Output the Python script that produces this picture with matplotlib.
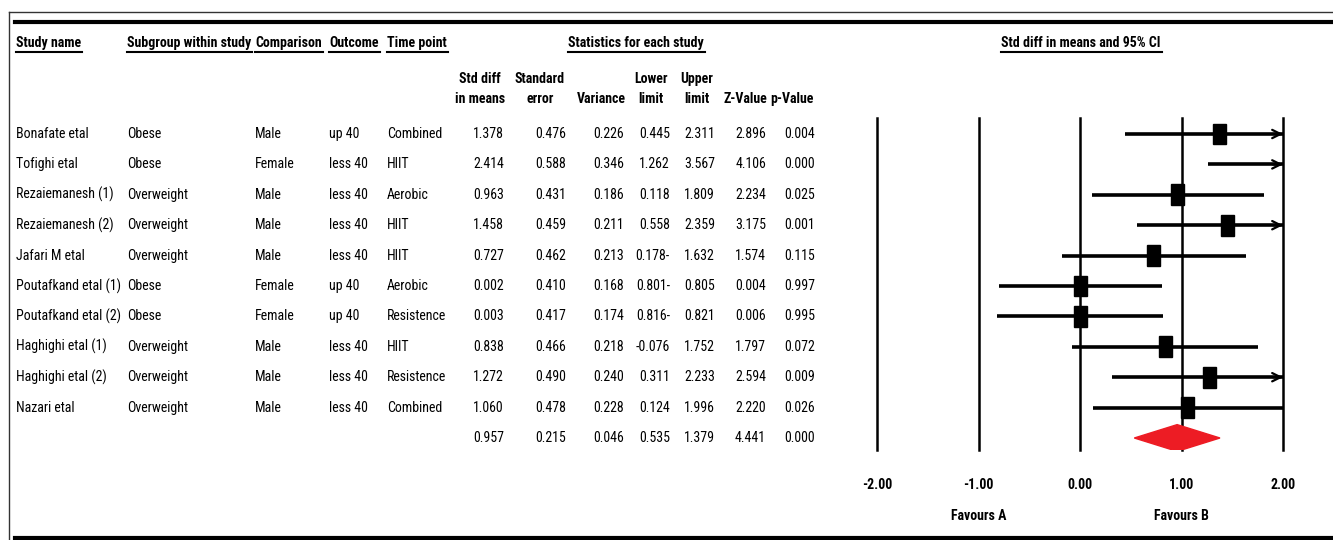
import matplotlib
matplotlib.use("Agg")
import matplotlib.pyplot as plt
from matplotlib.patches import Rectangle, Polygon
from matplotlib.transforms import blended_transform_factory

plt.rcParams["font.family"] = ["Roboto Condensed", "Archivo Narrow", "Liberation Sans",
                               "DejaVu Sans"]

# study table
studies = ["Bonafate etal", "Tofighi etal", "Rezaiemanesh (1)", "Rezaiemanesh (2)",
           "Jafari M etal", "Poutafkand etal (1)", "Poutafkand etal (2)",
           "Haghighi etal (1)", "Haghighi etal (2)", "Nazari etal"]
subgroup = ["Obese", "Obese", "Overweight", "Overweight", "Overweight", "Obese",
            "Obese", "Overweight", "Overweight", "Overweight"]
comparison = ["Male", "Female", "Male", "Male", "Male", "Female", "Female",
              "Male", "Male", "Male"]
outcome = ["up 40", "less 40", "less 40", "less 40", "less 40", "up 40", "up 40",
           "less 40", "less 40", "less 40"]
timepoint = ["Combined", "HIIT", "Aerobic", "HIIT", "HIIT", "Aerobic", "Resistence",
             "HIIT", "Resistence", "Combined"]

# numbers (last entry = pooled)
smd = [1.378, 2.414, 0.963, 1.458, 0.727, 0.002, 0.003, 0.838, 1.272, 1.060, 0.957]
se = [0.476, 0.588, 0.431, 0.459, 0.462, 0.410, 0.417, 0.466, 0.490, 0.478, 0.215]
var = [0.226, 0.346, 0.186, 0.211, 0.213, 0.168, 0.174, 0.218, 0.240, 0.228, 0.046]
lower = [0.445, 1.262, 0.118, 0.558, -0.178, -0.801, -0.816, -0.076, 0.311, 0.124, 0.535]
lower_txt = ["0.445", "1.262", "0.118", "0.558", "0.178-", "0.801-", "0.816-",
             "-0.076", "0.311", "0.124", "0.535"]
upper = [2.311, 3.567, 1.809, 2.359, 1.632, 0.805, 0.821, 1.752, 2.233, 1.996, 1.379]
zval = [2.896, 4.106, 2.234, 3.175, 1.574, 0.004, 0.006, 1.797, 2.594, 2.220, 4.441]
pval = [0.004, 0.000, 0.025, 0.001, 0.115, 0.997, 0.995, 0.072, 0.009, 0.026, 0.000]

xticks = [-2, -1, 0, 1, 2]
fav_labels = ["Favours A", "Favours B"]

W, H = 1333, 540
fig = plt.figure(figsize=(W / 100, H / 100), dpi=100)
bg = fig.add_axes([0, 0, 1, 1])
bg.set_xlim(0, W)
bg.set_ylim(H, 0)
bg.axis("off")

# forest panel: x from -2..2 on pixels 877..1283, rows at 134 + 30.4*i
top, bot, row0, rh = 118, 450, 134, 30.4
ax = fig.add_axes([877 / W, 1 - bot / H, (1283 - 877) / W, (bot - top) / H])
ax.set_xlim(-2, 2)
ax.set_ylim((bot - row0) / rh, (top - row0) / rh)
for s in ax.spines.values():
    s.set_visible(False)
ax.set_yticks([])

fs = 10
fsh = 10
tr = blended_transform_factory(bg.transData, ax.transData)

# frame lines
bg.plot([9, W], [12, 12], color="#333333", lw=1)
bg.plot([9, 9], [12, H], color="#333333", lw=1)
bg.plot([15, W], [21.5, 21.5], color="black", lw=3)
bg.plot([15, W], [538, 538], color="black", lw=3)

# headers
hdr = []
for x, t in [(16, "Study name"), (127, "Subgroup within study"), (255, "Comparison"),
             (329, "Outcome"), (387, "Time point")]:
    hdr.append(bg.text(x, 43, t, fontsize=fsh, fontweight="bold", va="center", ha="left"))
hdr.append(bg.text(636, 43, "Statistics for each study", fontsize=fsh, fontweight="bold",
                   va="center", ha="center"))
hdr.append(bg.text(1081, 43, "Std diff in means and 95% CI", fontsize=fsh,
                   fontweight="bold", va="center", ha="center"))

sub = [(480, "Std diff", "in means"), (540, "Standard", "error"), (601, "", "Variance"),
       (651, "Lower", "limit"), (697, "Upper", "limit"), (745, "", "Z-Value"),
       (792, "", "p-Value")]
for x, a, b in sub:
    bg.text(x, 79, a, fontsize=fsh, fontweight="bold", va="center", ha="center")
    bg.text(x, 99, b, fontsize=fsh, fontweight="bold", va="center", ha="center")

# table body
for i in range(len(studies)):
    for x, col in [(16, studies), (127, subgroup), (255, comparison), (329, outcome),
                   (387, timepoint)]:
        bg.text(x, i, col[i], transform=tr, fontsize=fs, va="center", ha="left")
for i in range(len(smd)):
    vals = ["%.3f" % smd[i], "%.3f" % se[i], "%.3f" % var[i], lower_txt[i],
            "%.3f" % upper[i], "%.3f" % zval[i], "%.3f" % pval[i]]
    for x, v in zip([504, 566, 624, 670, 715, 766, 815], vals):
        bg.text(x, i, v, transform=tr, fontsize=fs, va="center", ha="right")

# forest plot
for xv in xticks:
    ax.axvline(xv, color="black", lw=1.8, clip_on=False)
n = len(studies)
for i in range(n):
    hi = min(upper[i], 2)
    if upper[i] > 2:
        ax.plot([lower[i], hi], [i, i], color="black", lw=2.6, solid_capstyle="butt")
        ax.annotate("", xy=(2, i), xytext=(1.9, i),
                    arrowprops=dict(arrowstyle="->,head_length=0.6,head_width=0.3",
                                    lw=1.6, color="black", shrinkA=0, shrinkB=0))
    else:
        ax.plot([lower[i], hi], [i, i], color="black", lw=2.6, solid_capstyle="butt")
    if smd[i] <= 2:
        ax.add_patch(Rectangle((smd[i] - 0.064, i - 0.34), 0.128, 0.68,
                               color="black", zorder=3))
k = len(smd) - 1
ax.add_patch(Polygon([(lower[k], k), (smd[k], k - 0.44), (upper[k], k), (smd[k], k + 0.44)],
                     closed=True, color="#ED1C24", zorder=3))

ax.set_xticks(xticks)
ax.set_xticklabels(["%.2f" % v for v in xticks], fontsize=fsh, fontweight="bold")
ax.tick_params(axis="x", length=0, pad=20)
for xv, lab in zip([-1, 1], fav_labels):
    ax.text(xv, 516, lab, transform=blended_transform_factory(ax.transData, bg.transData),
            fontsize=fsh, fontweight="bold", va="center", ha="center")

# underline headers
fig.canvas.draw()
inv = bg.transData.inverted()
for t in hdr:
    bb = t.get_window_extent()
    (x0, _), (x1, _) = inv.transform([(bb.x0, bb.y0), (bb.x1, bb.y1)])
    bg.plot([x0, x1 + 1], [52, 52], color="black", lw=1.5)

fig.savefig("out.png", dpi=100)
